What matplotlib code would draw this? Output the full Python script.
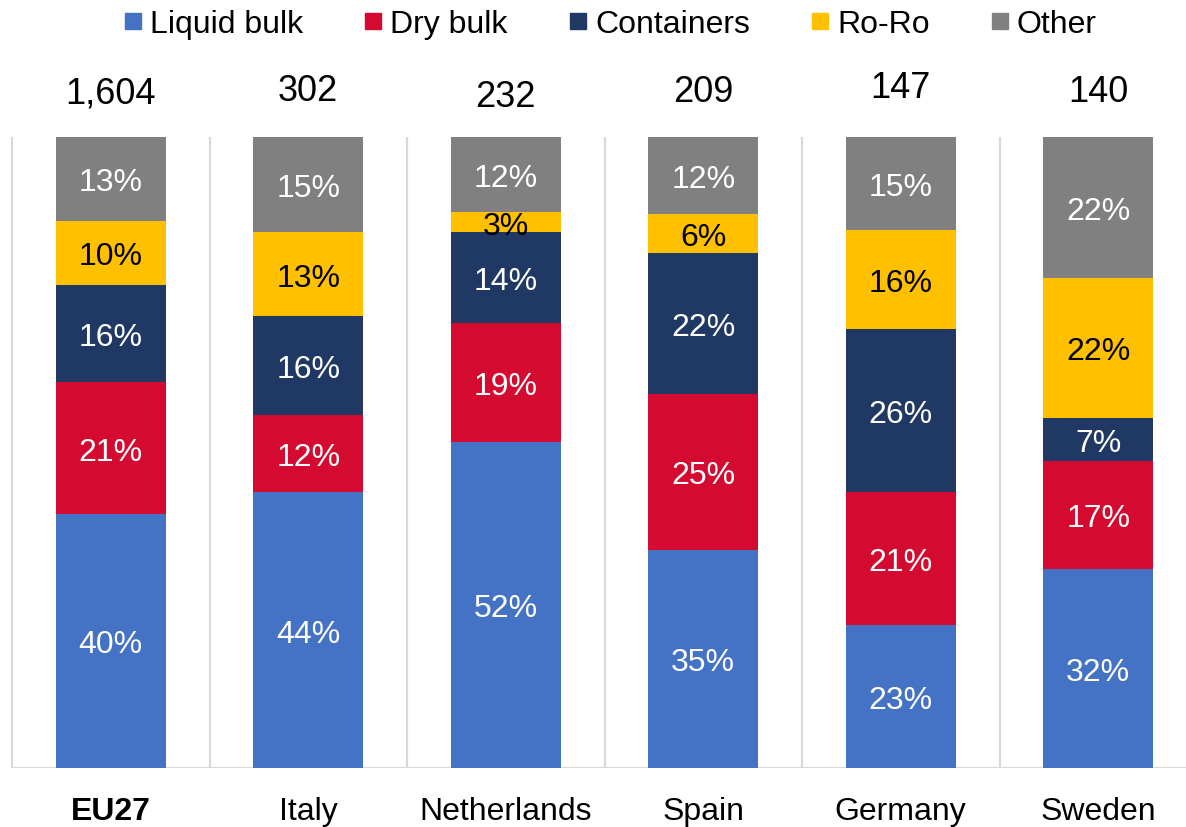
import matplotlib
matplotlib.use("Agg")
import matplotlib.pyplot as plt
from matplotlib.lines import Line2D
import numpy as np

plt.rcParams['font.family'] = ['Liberation Sans', 'DejaVu Sans']

categories = ["EU27", "Italy", "Netherlands", "Spain", "Germany", "Sweden"]
totals = [1604, 302, 232, 209, 147, 140]
series_names = ["Liquid bulk", "Dry bulk", "Containers", "Ro-Ro", "Other"]
liquid_bulk = [40.3, 43.7, 51.7, 34.6, 22.6, 31.6]
dry_bulk = [20.8, 12.2, 18.9, 24.7, 21.2, 17.1]
containers = [15.5, 15.7, 14.3, 22.3, 25.8, 6.8]
ro_ro = [10.1, 13.3, 3.2, 6.2, 15.6, 22.2]
other = [13.3, 15.1, 11.9, 12.2, 14.8, 22.3]

# styling / layout
colors = ["#4472C4", "#D50A30", "#203864", "#FFC000", "#808080"]
label_colors = ["white", "white", "white", "black", "white"]
total_label_px = [94, 91.5, 97.5, 92.5, 88.5, 92.5]  # pixel centre of total labels

W, H = 1186, 828
fig = plt.figure(figsize=(W / 100, H / 100), dpi=100)
ax_left, ax_bottom_px, ax_top_px, ax_right = 12, 769, 138, 1197
ax = fig.add_axes([ax_left / W, (H - ax_bottom_px) / H,
                   (ax_right - ax_left) / W, (ax_bottom_px - ax_top_px) / H])

x = np.arange(len(categories))
data = [liquid_bulk, dry_bulk, containers, ro_ro, other]
bottom = np.zeros(len(categories))
for vals, name, col, lcol in zip(data, series_names, colors, label_colors):
    vals = np.array(vals)
    ax.bar(x, vals, bottom=bottom, width=0.558, color=col, label=name, zorder=3)
    for xi, b, v in zip(x, bottom, vals):
        ax.text(xi, b + v / 2, f"{v:.0f}%", ha="center", va="center_baseline",
                fontsize=23, color=lcol, zorder=4)
    bottom += vals

ax.set_xlim(-0.5, len(categories) - 0.5)
ax.set_ylim(0, 100)
ax.vlines(np.arange(len(categories) + 1) - 0.5, 0, 100, color="#D9D9D9",
          lw=1.6, zorder=1, clip_on=False)
ax.axhline(0, color="#D9D9D9", lw=2.2, zorder=2)
for s in ax.spines.values():
    s.set_visible(False)
ax.set_xticks([])
ax.set_yticks([])

px_per_unit = (ax_bottom_px - ax_top_px) / 100.0
for xi, t, ypx in zip(x, totals, total_label_px):
    ax.text(xi, (ax_bottom_px - ypx) / px_per_unit, f"{t:,}", ha="center",
            va="center", fontsize=26, color="black", clip_on=False)

for xi, c in zip(x, categories):
    ax.text(xi, (ax_bottom_px - 820) / px_per_unit, c, ha="center", va="baseline",
            fontsize=23, color="black", fontweight="bold" if c == "EU27" else "normal",
            clip_on=False)

handles = [Line2D([0], [0], marker="s", linestyle="none", markersize=11.5,
                  markerfacecolor=c, markeredgecolor=c) for c in colors]
fig.legend(handles, series_names, loc="center", bbox_to_anchor=(611 / W, 1 - 25 / H),
           ncol=5, frameon=False, fontsize=23, handlelength=0.5,
           handletextpad=0.28, columnspacing=1.95, borderaxespad=0, borderpad=0)

fig.savefig("out.png", dpi=100)
